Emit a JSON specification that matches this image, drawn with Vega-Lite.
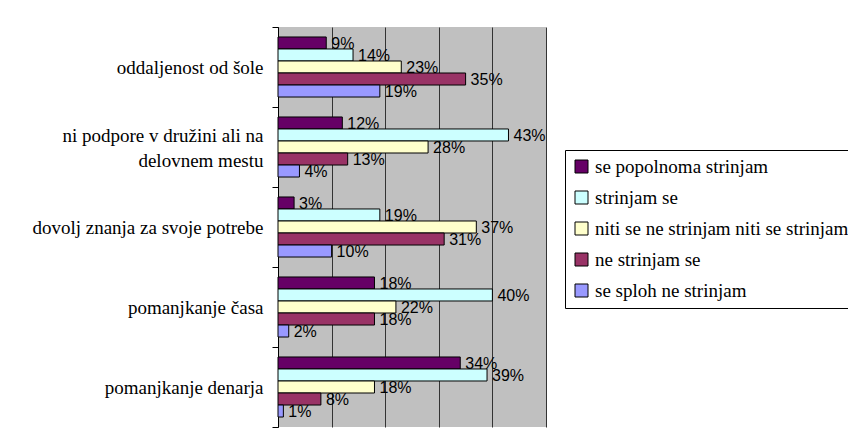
{
  "$schema": "https://vega.github.io/schema/vega-lite/v6.json",
  "width": 268,
  "height": 400,
  "autosize": {"type": "none"},
  "padding": {"left": 278, "top": 27, "right": 302, "bottom": 10},
  "background": "white",
  "config": {
    "view": {"fill": "#C0C0C0", "stroke": null}
  },
  "data": {
    "values": [
      {"cat": "oddaljenost od šole", "serie": "se popolnoma strinjam", "v": 0.09},
      {"cat": "oddaljenost od šole", "serie": "strinjam se", "v": 0.14},
      {"cat": "oddaljenost od šole", "serie": "niti se ne strinjam niti se strinjam", "v": 0.23},
      {"cat": "oddaljenost od šole", "serie": "ne strinjam se", "v": 0.35},
      {"cat": "oddaljenost od šole", "serie": "se sploh ne strinjam", "v": 0.19},
      {"cat": "ni podpore v družini ali na delovnem mestu", "serie": "se popolnoma strinjam", "v": 0.12},
      {"cat": "ni podpore v družini ali na delovnem mestu", "serie": "strinjam se", "v": 0.43},
      {"cat": "ni podpore v družini ali na delovnem mestu", "serie": "niti se ne strinjam niti se strinjam", "v": 0.28},
      {"cat": "ni podpore v družini ali na delovnem mestu", "serie": "ne strinjam se", "v": 0.13},
      {"cat": "ni podpore v družini ali na delovnem mestu", "serie": "se sploh ne strinjam", "v": 0.04},
      {"cat": "dovolj znanja za svoje potrebe", "serie": "se popolnoma strinjam", "v": 0.03},
      {"cat": "dovolj znanja za svoje potrebe", "serie": "strinjam se", "v": 0.19},
      {"cat": "dovolj znanja za svoje potrebe", "serie": "niti se ne strinjam niti se strinjam", "v": 0.37},
      {"cat": "dovolj znanja za svoje potrebe", "serie": "ne strinjam se", "v": 0.31},
      {"cat": "dovolj znanja za svoje potrebe", "serie": "se sploh ne strinjam", "v": 0.10},
      {"cat": "pomanjkanje časa", "serie": "se popolnoma strinjam", "v": 0.18},
      {"cat": "pomanjkanje časa", "serie": "strinjam se", "v": 0.40},
      {"cat": "pomanjkanje časa", "serie": "niti se ne strinjam niti se strinjam", "v": 0.22},
      {"cat": "pomanjkanje časa", "serie": "ne strinjam se", "v": 0.18},
      {"cat": "pomanjkanje časa", "serie": "se sploh ne strinjam", "v": 0.02},
      {"cat": "pomanjkanje denarja", "serie": "se popolnoma strinjam", "v": 0.34},
      {"cat": "pomanjkanje denarja", "serie": "strinjam se", "v": 0.39},
      {"cat": "pomanjkanje denarja", "serie": "niti se ne strinjam niti se strinjam", "v": 0.18},
      {"cat": "pomanjkanje denarja", "serie": "ne strinjam se", "v": 0.08},
      {"cat": "pomanjkanje denarja", "serie": "se sploh ne strinjam", "v": 0.01}
    ]
  },
  "encoding": {
    "y": {
      "field": "cat",
      "type": "nominal",
      "sort": null,
      "title": null,
      "scale": {"paddingInner": 0, "paddingOuter": 0},
      "axis": {
        "tickBand": "extent",
        "tickSize": 6,
        "tickColor": "black",
        "domainColor": "black",
        "labelFont": "Liberation Serif",
        "labelFontSize": 19,
        "labelColor": "black",
        "labelPadding": 9,
        "labelLimit": 300,
        "labelLineHeight": 25,
        "labelOffset": {"condition": {"test": "datum.value == 'ni podpore v družini ali na delovnem mestu'", "value": -12}, "value": 0},
        "labelExpr": "datum.label == 'ni podpore v družini ali na delovnem mestu' ? ['ni podpore v družini ali na', 'delovnem mestu\u2003\u2003'] : (indexof(datum.label, 'pomanjkanje') == 0 ? datum.label + '\u2009' : datum.label)"
      }
    },
    "yOffset": {
      "field": "serie",
      "type": "nominal",
      "sort": ["se popolnoma strinjam", "strinjam se", "niti se ne strinjam niti se strinjam", "ne strinjam se", "se sploh ne strinjam"],
      "scale": {"paddingInner": 0, "paddingOuter": 0.83}
    },
    "x": {
      "field": "v",
      "type": "quantitative",
      "title": null,
      "scale": {"domain": [0, 0.5], "nice": false},
      "axis": {
        "values": [0, 0.1, 0.2, 0.3, 0.4, 0.5],
        "grid": true,
        "gridColor": "#333333",
        "gridWidth": 1,
        "labels": false,
        "ticks": false,
        "domain": false
      }
    }
  },
  "layer": [
    {
      "mark": {"type": "bar", "stroke": "black", "strokeWidth": 1},
      "encoding": {
        "color": {
          "field": "serie",
          "type": "nominal",
          "sort": ["se popolnoma strinjam", "strinjam se", "niti se ne strinjam niti se strinjam", "ne strinjam se", "se sploh ne strinjam"],
          "scale": {
            "domain": ["se popolnoma strinjam", "strinjam se", "niti se ne strinjam niti se strinjam", "ne strinjam se", "se sploh ne strinjam"],
            "range": ["#660066", "#CCFFFF", "#FFFFCC", "#993366", "#9999FF"]
          },
          "legend": {
            "title": null,
            "orient": "none",
            "legendX": 287,
            "legendY": 123,
            "strokeColor": "black",
            "fillColor": "white",
            "padding": 7,
            "symbolType": "square",
            "symbolSize": 169,
            "symbolStrokeColor": "black",
            "symbolStrokeWidth": 1,
            "symbolOpacity": 1,
            "labelFont": "Liberation Serif",
            "labelFontSize": 19,
            "labelColor": "black",
            "labelOffset": 4,
            "labelLimit": 400,
            "rowPadding": 11
          }
        }
      }
    },
    {
      "mark": {"type": "text", "align": "left", "baseline": "middle", "dx": 5, "dy": 1, "font": "Liberation Sans", "fontSize": 16, "color": "black"},
      "encoding": {
        "text": {"field": "v", "type": "quantitative", "format": ".0%"}
      }
    }
  ]
}
